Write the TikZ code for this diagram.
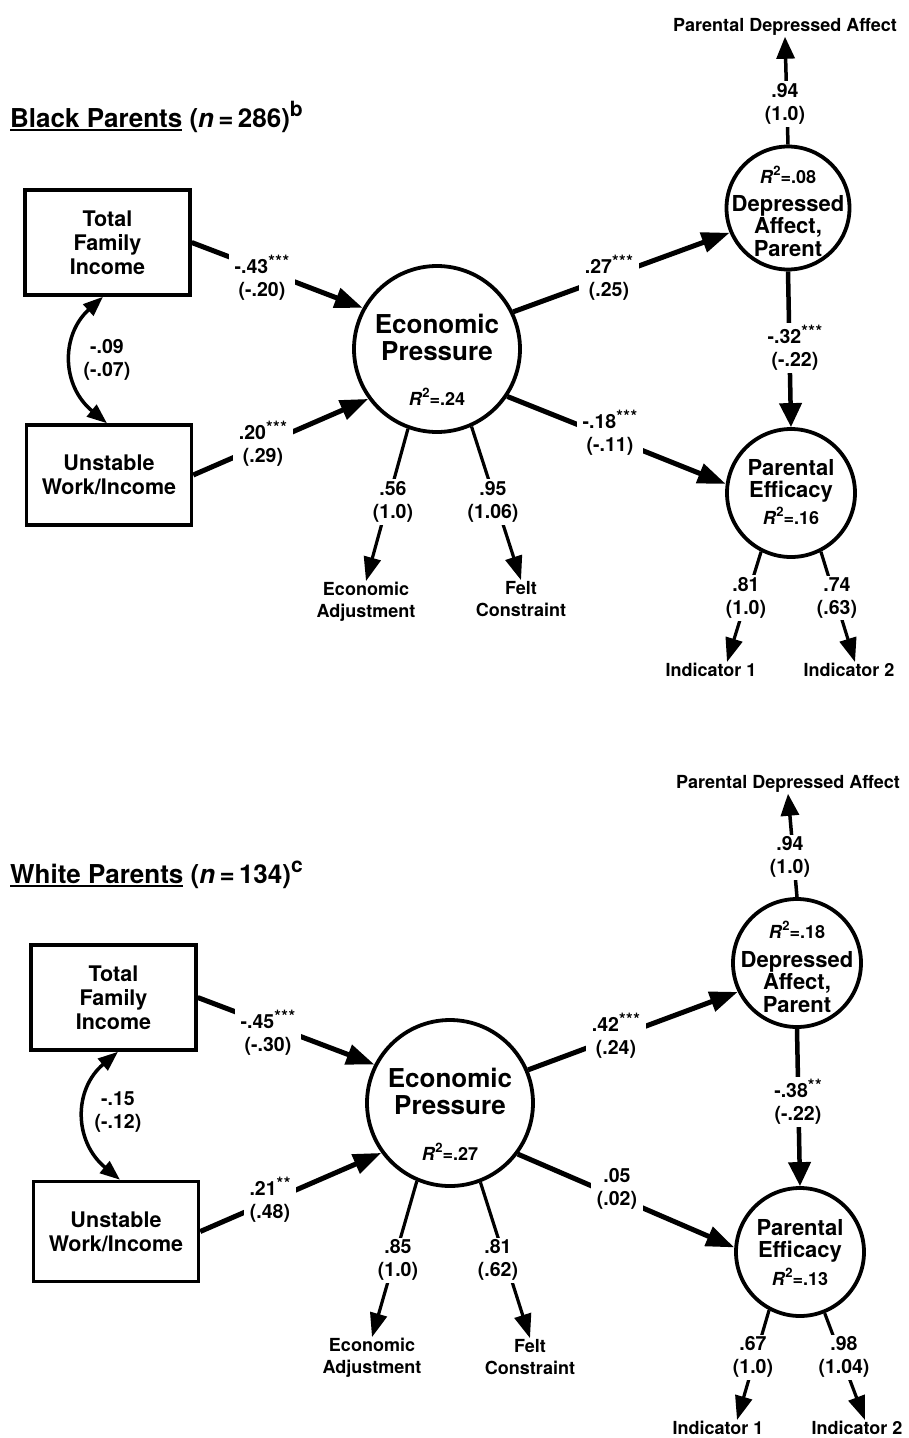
\documentclass[tikz,border=0pt]{standalone}
\usepackage{fontspec}
\setmainfont{TeX Gyre Heros}
\usetikzlibrary{arrows.meta}
\newcommand\szTitle{\fontsize{26}{30}\selectfont\bfseries}
\newcommand\szBox{\fontsize{21.5}{24}\selectfont\bfseries}
\newcommand\szBig{\fontsize{26}{27}\selectfont\bfseries}
\newcommand\szCirc{\fontsize{22}{22.5}\selectfont\bfseries}
\newcommand\szRsq{\fontsize{18}{20}\selectfont\bfseries}
\newcommand\szNum{\fontsize{19.5}{23}\selectfont\bfseries}
\newcommand\szSmall{\fontsize{18}{22}\selectfont\bfseries}
\newcommand\threest{\raisebox{.3em}{\fontsize{17}{17}\selectfont\bfseries*\kern.6pt*\kern.6pt*}}
\newcommand\twost{\raisebox{.3em}{\fontsize{17}{17}\selectfont\bfseries*\kern.6pt*}}
\newcommand\rsq[1]{{\szRsq\textit{R}\raisebox{.45em}{\fontsize{13}{13}\selectfont 2}=#1}}
\newcommand\ulbox[1]{\setbox0\hbox{#1}\rlap{\rule[-3.5pt]{\wd0}{1.8pt}}\box0\relax}
\tikzset{
  boxnode/.style={draw, line width=3.5pt, minimum width=165pt, minimum height=105pt, inner sep=0pt, align=center, font=\szBox},
  latent/.style={draw, circle, line width=3.8pt, inner sep=0pt},
  txt/.style={align=center, inner sep=1pt, font=\szSmall},
  bigtxt/.style={align=center, inner sep=0pt, font=\szBig},
  circtxt/.style={align=center, inner sep=0pt, font=\szCirc},
  rtxt/.style={inner sep=0pt},
  lbl/.style={fill=white, align=center, inner xsep=6pt, inner ysep=2pt, font=\szNum},
  lblnf/.style={align=center, inner sep=1pt, font=\szNum},
  regpath/.style={line width=5pt, -{Triangle[length=28pt,width=20pt]}},
  vpath/.style={line width=4.5pt, -{Triangle[length=24pt,width=22pt]}},
  toppath/.style={line width=3.5pt, -{Triangle[length=22pt,width=18pt]}},
  loading/.style={line width=3.2pt, -{Triangle[length=24pt,width=17pt]}},
  corr/.style={line width=3.5pt, {Triangle[length=20pt,width=15pt]}-{Triangle[length=20pt,width=15pt]}},
}
\begin{document}
\begin{tikzpicture}[x=1pt,y=-1pt]
\fill[white] (0,0) rectangle (909,1438);
\useasboundingbox (0,0) rectangle (909,1438);

% ================= TOP PANEL =================
\node[anchor=base west, font=\szTitle, inner sep=0pt] (titleA) at (10,127) {\ulbox{Black Parents} (\textit{n}\,=\,286)\raisebox{.4em}{\fontsize{21}{21}\selectfont b}};

\node[boxnode] (tfi) at (107.5,242.5) {Total\\Family\\Income};
\node[boxnode, minimum height=100pt] (uwi) at (109,475) {Unstable\\Work/Income};
\node[latent, minimum size=166pt] (ep) at (437,349) {};
\node[latent, minimum size=123pt] (da) at (788,208) {};
\node[latent, minimum size=128pt] (pe) at (791,493) {};

\node[bigtxt] (ept) at ([yshift=11.5pt]ep.center) {Economic\\Pressure};
\node[rtxt] (epr) at ([yshift=-48pt]ep.center) {\rsq{.24}};
\node[rtxt] (dar) at ([yshift=33pt]da.center) {\rsq{.08}};
\node[circtxt] (dat) at ([yshift=-18pt]da.center) {Depressed\\Affect,\\Parent};
\node[circtxt] (pet) at ([yshift=12pt]pe.center) {Parental\\Efficacy};
\node[rtxt] (per) at ([yshift=-23pt]pe.center) {\rsq{.16}};

\node[txt] (pda) at (785,27) {Parental Depressed Affect};
\node[txt] (ea) at (366,602) {Economic\\Adjustment};
\node[txt] (fc) at (521,599) {Felt\\Constraint};
\node[txt] (ia) at (711,670) {Indicator 1};
\node[txt] (ib) at (849,670) {Indicator 2};

\draw[regpath] (tfi.east) -- (ep.151);
\draw[regpath] (uwi.east) -- (ep.216);
\draw[corr] ([xshift=-4.5pt]tfi.south) .. controls +(-42,38) and +(-46,-38) .. ([xshift=-2pt]uwi.north);
\draw[regpath] (ep.26) -- (da.203);
\draw[regpath] (ep.326) -- (pe.172);
\draw[vpath] (da.south) -- (pe.north);
\draw[toppath] (da.north) -- (pda.south);
\draw[loading] (ep.250) -- (ea.north);
\draw[loading] (ep.294) -- (fc.north);
\draw[loading] (pe.243) -- ([xshift=16pt]ia.north);
\draw[loading] (pe.297) -- ([xshift=6pt]ib.north);

\node[lbl] (l1) at (262,278) {-.43\threest\\(-.20)};
\node[lbl] (l2) at (263,444) {.20\threest\\(.29)};
\node[lblnf] (l3) at (107,360) {-.09\\(-.07)};
\node[lbl] (l4) at (609,278) {.27\threest\\(.25)};
\node[lbl] (l5) at (610,433) {-.18\threest\\(-.11)};
\node[lbl] (l6) at (795,348) {-.32\threest\\(-.22)};
\node[lbl] (l7) at (785,104) {.94\\(1.0)};
\node[lbl] (l8) at (393,502) {.56\\(1.0)};
\node[lbl] (l9) at (493,502) {.95\\(1.06)};
\node[lbl] (l10) at (746,598) {.81\\(1.0)};
\node[lbl] (l11) at (837,598) {.74\\(.63)};

% ================= BOTTOM PANEL =================
\node[anchor=base west, font=\szTitle, inner sep=0pt] (titleB) at (10,883) {\ulbox{White Parents} (\textit{n}\,=\,134)\raisebox{.4em}{\fontsize{21}{21}\selectfont c}};

\node[boxnode] (tfiB) at (113.5,997.5) {Total\\Family\\Income};
\node[boxnode, minimum height=100pt] (uwiB) at (116,1231.5) {Unstable\\Work/Income};
\node[latent, minimum size=166pt] (epB) at (450,1103) {};
\node[latent, minimum size=128pt] (daB) at (797,963) {};
\node[latent, minimum size=128pt] (peB) at (800,1252) {};

\node[bigtxt] (eptB) at ([yshift=11.5pt]epB.center) {Economic\\Pressure};
\node[rtxt] (eprB) at ([yshift=-49pt]epB.center) {\rsq{.27}};
\node[rtxt] (darB) at ([yshift=33pt]daB.center) {\rsq{.18}};
\node[circtxt] (datB) at ([yshift=-19pt]daB.center) {Depressed\\Affect,\\Parent};
\node[circtxt] (petB) at ([yshift=11pt]peB.center) {Parental\\Efficacy};
\node[rtxt] (perB) at ([yshift=-25pt]peB.center) {\rsq{.13}};

\node[txt] (pdaB) at (788,784) {Parental Depressed Affect};
\node[txt] (eaB) at (372,1358) {Economic\\Adjustment};
\node[txt] (fcB) at (530,1357) {Felt\\Constraint};
\node[txt] (iaB) at (718,1428) {Indicator 1};
\node[txt] (ibB) at (857,1428) {Indicator 2};

\draw[regpath] (tfiB.east) -- (epB.153);
\draw[regpath] (uwiB.east) -- (epB.216);
\draw[corr] ([xshift=4.5pt]tfiB.south) .. controls +(-45,38) and +(-46,-38) .. ([xshift=4pt]uwiB.north);
\draw[regpath] (epB.23) -- (daB.206);
\draw[regpath] (epB.323) -- (peB.176);
\draw[vpath] (daB.south) -- (peB.north);
\draw[toppath] (daB.north) -- (pdaB.south);
\draw[loading] (epB.247) -- (eaB.north);
\draw[loading] (epB.291) -- (fcB.north);
\draw[loading] (peB.242) -- ([xshift=19pt]iaB.north);
\draw[loading] (peB.292) -- ([xshift=8pt]ibB.north);

\node[lbl] (m1) at (268,1033) {-.45\threest\\(-.30)};
\node[lbl] (m2) at (270,1200) {.21\twost\\(.48)};
\node[lblnf] (m3) at (118,1112) {-.15\\(-.12)};
\node[lbl] (m4) at (616,1036) {.42\threest\\(.24)};
\node[lbl] (m5) at (617,1189) {.05\\(.02)};
\node[lbl] (m6) at (798,1102) {-.38\twost\\(-.22)};
\node[lbl] (m7) at (790,857) {.94\\(1.0)};
\node[lbl] (m8) at (398,1260) {.85\\(1.0)};
\node[lbl] (m9) at (498,1260) {.81\\(.62)};
\node[lbl] (m10) at (753,1357) {.67\\(1.0)};
\node[lbl] (m11) at (844,1357) {.98\\(1.04)};
\end{tikzpicture}
\end{document}
